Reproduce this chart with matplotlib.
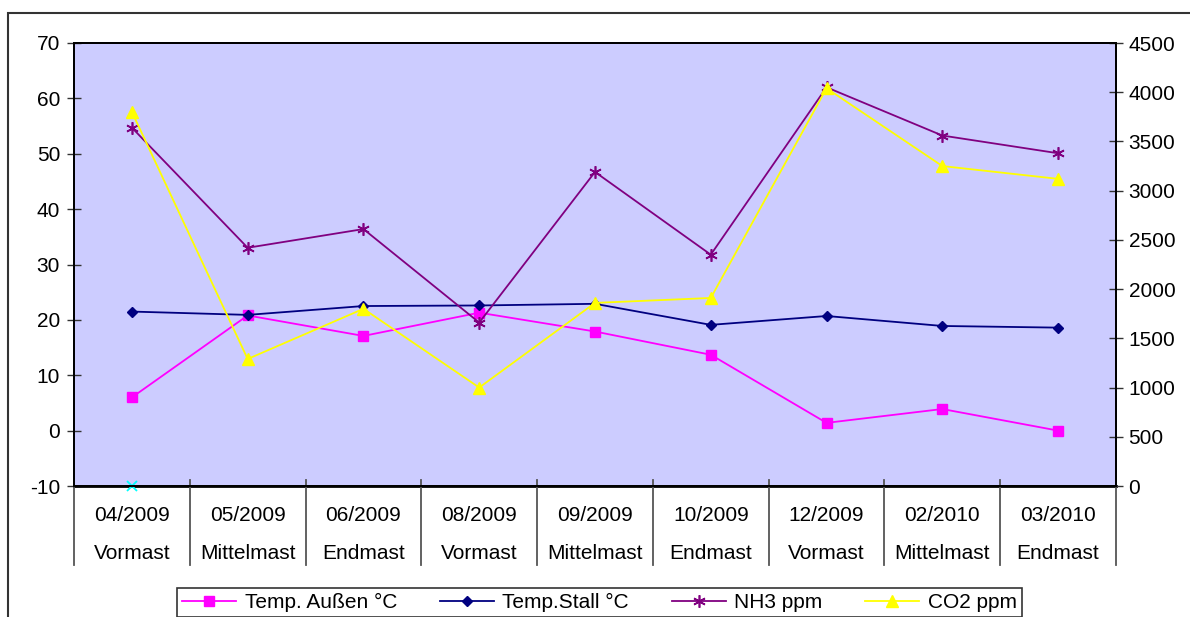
import matplotlib
matplotlib.use('Agg')
from matplotlib import pyplot as plt
from matplotlib.patches import Rectangle
import matplotlib.transforms as mtransforms
import numpy as np

plt.rcParams['font.family'] = ['Liberation Sans', 'DejaVu Sans']
plt.rcParams['font.size'] = 15
plt.rcParams['axes.unicode_minus'] = False

# Messtermine und Mastabschnitte
monate = ['04/2009', '05/2009', '06/2009', '08/2009', '09/2009',
          '10/2009', '12/2009', '02/2010', '03/2010']
abschnitt = ['Vormast', 'Mittelmast', 'Endmast', 'Vormast', 'Mittelmast',
             'Endmast', 'Vormast', 'Mittelmast', 'Endmast']

# Temperaturen (linke Achse)
temp_aussen = [6.0, 20.8, 17.1, 21.3, 17.9, 13.7, 1.4, 3.9, 0.0]
temp_stall = [21.5, 20.9, 22.5, 22.6, 22.9, 19.1, 20.7, 18.9, 18.6]
# Gase (rechte Achse)
nh3 = [3640, 2420, 2610, 1660, 3190, 2350, 4050, 3560, 3380]
co2 = [3800, 1290, 1800, 1000, 1860, 1910, 4040, 3250, 3120]
# einzelner Wert ohne Legende
extra = [-10]

x = np.arange(len(monate)) + 0.5

fig = plt.figure(figsize=(11.9, 6.17), dpi=100)
ax1 = fig.add_axes([74/1190, 1 - 486/617, 1042/1190, 443/617])
ax1.set_facecolor('#CCCCFF')
ax2 = ax1.twinx()

l1, = ax1.plot(x, temp_aussen, color='#FF00FF', marker='s', markersize=7,
               lw=1.3, label='Temp. Außen °C', zorder=3)
l2, = ax1.plot(x, temp_stall, color='#000080', marker='D', markersize=5.5,
               lw=1.3, label='Temp.Stall °C', zorder=3)
ax1.plot(x[:1], extra, color='#00FFFF', marker='x', markersize=7, mew=1.3,
         ls='none', clip_on=False, zorder=4)
l3, = ax2.plot(x, nh3, color='#800080', marker=(6, 2, 0), markersize=9,
               mew=1.2, lw=1.3, label='NH3 ppm')
l4, = ax2.plot(x, co2, color='#FFFF00', marker='^', markersize=8,
               lw=1.3, label='CO2 ppm')

ax1.set_xlim(0, len(monate))
ax1.set_ylim(-10, 70)
ax1.set_yticks(np.arange(-10, 71, 10))
ax2.set_ylim(0, 4500)
ax2.set_yticks(np.arange(0, 4501, 500))

for ax in (ax1, ax2):
    for s in ax.spines.values():
        s.set_color('black')
        s.set_linewidth(1.4)
    ax.tick_params(axis='y', direction='inout', length=10, width=1,
                   color='#333333', labelsize=15)
ax1.spines['bottom'].set_linewidth(2)
ax1.tick_params(axis='y', pad=5)
ax2.tick_params(axis='y', pad=4)
ax1.set_xticks([])
ax2.set_xticks([])

# Kategorieachse mit zwei Ebenen
trans = mtransforms.blended_transform_factory(ax1.transData, ax1.transAxes)
for i in range(len(monate) + 1):
    ax1.plot([i, i], [0.0135, -0.178], transform=trans, color='#555555',
             lw=1.3, clip_on=False, zorder=5)
for xi, m, a in zip(x, monate, abschnitt):
    ax1.text(xi, -0.066, m, transform=trans, ha='center', va='center')
    ax1.text(xi, -0.152, a, transform=trans, ha='center', va='center')

# Rahmen um das Diagramm
fig.patches.append(Rectangle((8/1190, -0.1), 1.2, 1 - 13/617 + 0.1,
                             transform=fig.transFigure, fill=False,
                             edgecolor='#333333', lw=1.5))

leg = fig.legend(handles=[l1, l2, l3, l4], loc='upper left', ncol=4,
                 bbox_to_anchor=(177/1190, 1 - 588/617 - 0.06, 845/1190, 0.06),
                 mode='expand', frameon=True, fancybox=False,
                 edgecolor='black', handlelength=2.6, handletextpad=0.4,
                 borderpad=0.25, borderaxespad=0, fontsize=15)
leg.get_frame().set_linewidth(1.2)

fig.savefig('out.png', dpi=100)
